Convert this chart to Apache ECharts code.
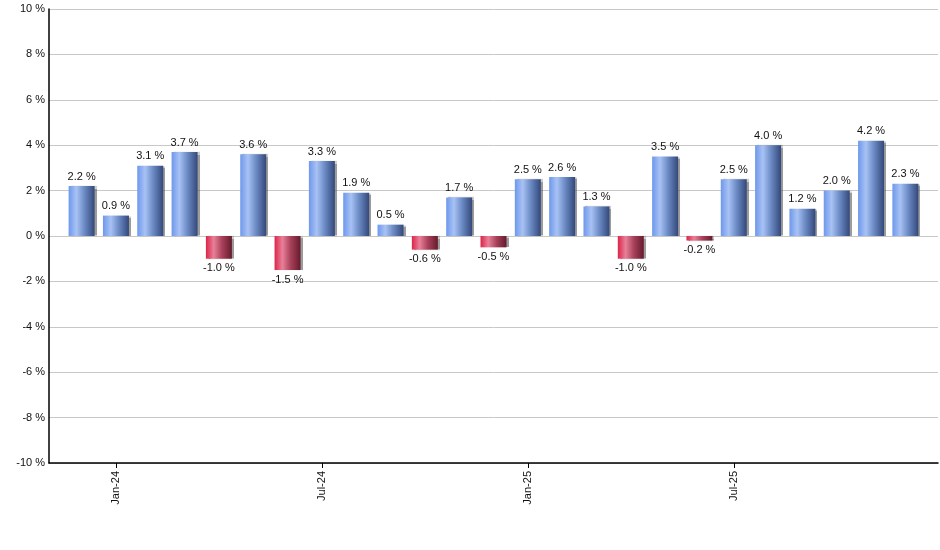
<!DOCTYPE html>
<html><head><meta charset="utf-8">
<script src="https://cdn.jsdelivr.net/npm/echarts@6/dist/echarts.min.js"></script>
<style>html,body{margin:0;padding:0;background:#fff}#c{width:940px;height:550px}</style>
</head><body><div id="c"></div>
<script>
const months = ["Dec-23","Jan-24","Feb-24","Mar-24","Apr-24","May-24","Jun-24","Jul-24","Aug-24","Sep-24","Oct-24","Nov-24","Dec-24","Jan-25","Feb-25","Mar-25","Apr-25","May-25","Jun-25","Jul-25","Aug-25","Sep-25","Oct-25","Nov-25","Dec-25"];
const values = [2.2,0.9,3.1,3.7,-1.0,3.6,-1.5,3.3,1.9,0.5,-0.6,1.7,-0.5,2.5,2.6,1.3,-1.0,3.5,-0.2,2.5,4.0,1.2,2.0,4.2,2.3];
const tickMonths = ["Jan-24","Jul-24","Jan-25","Jul-25"];
const yTicks = [-10,-8,-6,-4,-2,0,2,4,6,8,10];

const posGrad = new echarts.graphic.LinearGradient(0,0,1,0,[
  {offset:0,color:'#6e98ec'},{offset:0.3,color:'#a8c2f4'},{offset:0.6,color:'#6d8cc6'},{offset:1,color:'#33487a'}]);
const negGrad = new echarts.graphic.LinearGradient(0,0,1,0,[
  {offset:0,color:'#dc2447'},{offset:0.3,color:'#e8809a'},{offset:0.62,color:'#a8405a'},{offset:1,color:'#661a2c'}]);

const tickIdx = tickMonths.map(m => months.indexOf(m));
const data = values.map((v,i) => ({
  value:[i,v],
  itemStyle:{color: v>=0 ? posGrad : negGrad},
  label:{position: v>=0 ? 'top' : 'bottom'}
}));

const chart = echarts.init(document.getElementById('c'));
chart.setOption({
  animation:false,
  grid:{left:49,right:2,top:9,bottom:87},
  xAxis:{
    type:'value', min:-0.95, max:24.95,
    splitLine:{show:false},
    axisLine:{onZero:false,lineStyle:{color:'#000',width:1.5}},
    axisTick:{show:true,customValues:tickIdx,length:5,lineStyle:{color:'#000'}},
    axisLabel:{customValues:tickIdx,rotate:90,fontFamily:'Liberation Sans, Arial',fontSize:11,color:'#111',margin:8,
      formatter:v=>months[Math.round(v)]}
  },
  yAxis:{
    type:'value', min:-10, max:10, interval:2,
    axisLine:{show:true,onZero:false,lineStyle:{color:'#000',width:1.5}},
    axisTick:{show:false},
    splitLine:{lineStyle:{color:'#c8c8c8'}},
    axisLabel:{fontFamily:'Liberation Sans, Arial',fontSize:11,color:'#111',margin:4,formatter:v=>v+' %'}
  },
  series:[{
    type:'bar', barWidth:26, data:data,
    itemStyle:{shadowColor:'rgba(90,90,90,0.6)',shadowOffsetX:2,shadowOffsetY:0,shadowBlur:1},
    label:{show:true,fontFamily:'Liberation Sans, Arial',fontSize:11,color:'#111',distance:4,
      formatter:p=>p.value[1].toFixed(1)+' %'}
  }]
});
</script></body></html>
